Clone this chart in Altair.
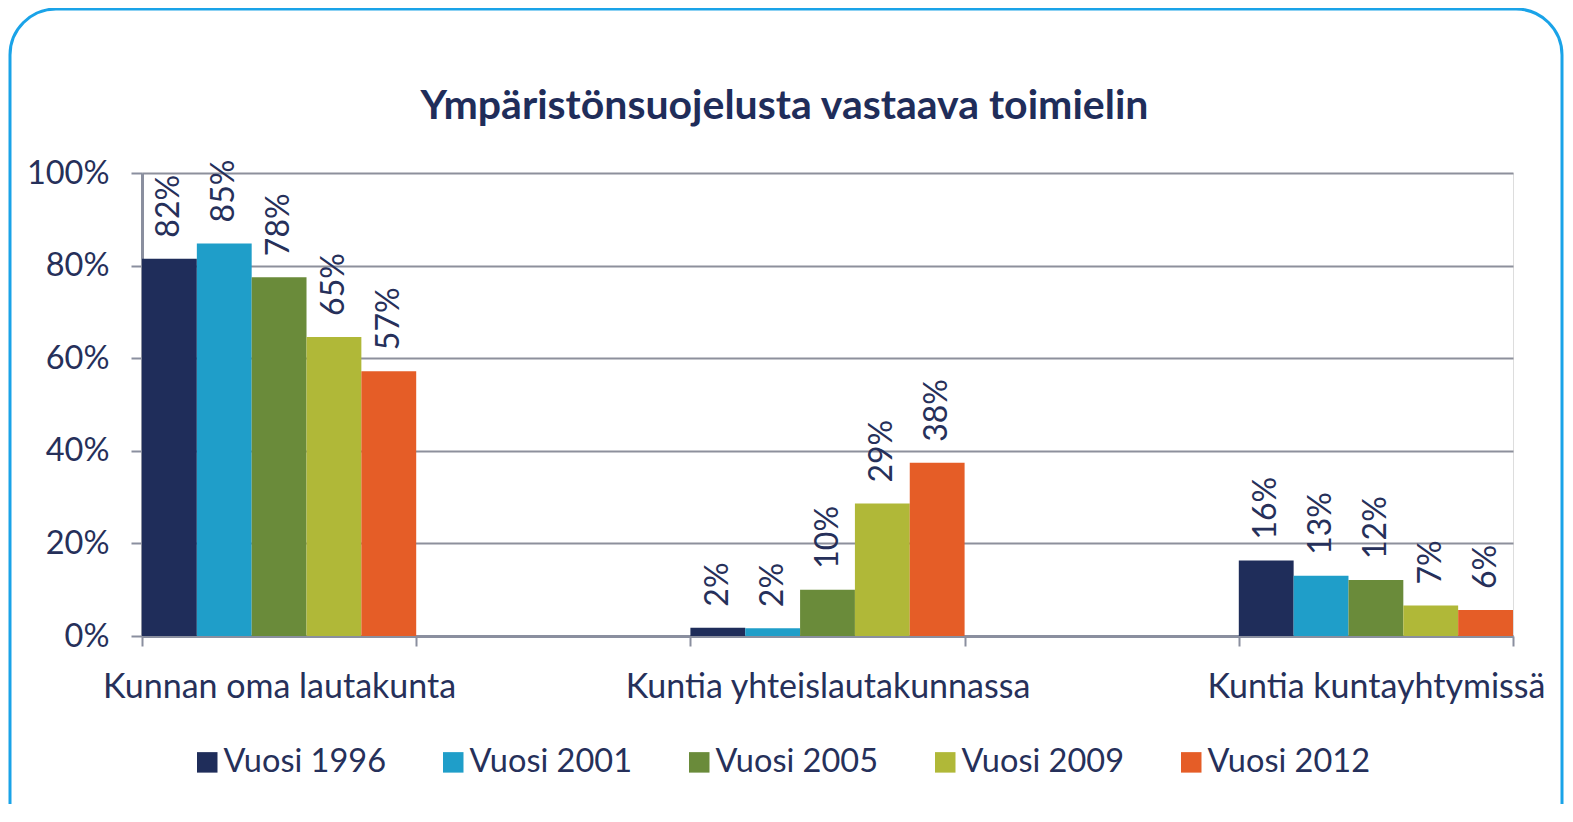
import altair as alt
import pandas as pd

# ---- data ----
categories = ["Kunnan oma lautakunta", "Kuntia yhteislautakunnassa", "Kuntia kuntayhtymissä"]
spacers = [" ", "  "]  # empty category slots between the groups
x_domain = [categories[0], spacers[0], categories[1], spacers[1], categories[2]]

years = ["Vuosi 1996", "Vuosi 2001", "Vuosi 2005", "Vuosi 2009", "Vuosi 2012"]
colors = ["#1f2d5a", "#1f9ec9", "#6a8b3a", "#b0b838", "#e55d27"]

v1996 = [81.5, 1.8, 16.3]
v2001 = [84.8, 1.7, 13.0]
v2005 = [77.5, 10.0, 12.1]
v2009 = [64.6, 28.6, 6.6]
v2012 = [57.2, 37.4, 5.6]

l1996 = ["82%", "2%", "16%"]
l2001 = ["85%", "2%", "13%"]
l2005 = ["78%", "10%", "12%"]
l2009 = ["65%", "29%", "7%"]
l2012 = ["57%", "38%", "6%"]

title_text = "Ympäristönsuojelusta vastaava toimielin"

series_vals = [v1996, v2001, v2005, v2009, v2012]
series_labels = [l1996, l2001, l2005, l2009, l2012]
rows = []
for y, vals, labs in zip(years, series_vals, series_labels):
    for c, v, l in zip(categories, vals, labs):
        rows.append({"category": c, "year": y, "value": v / 100.0, "label": l})
df = pd.DataFrame(rows)

FONT = "Lato"
TXT = "#26305a"
FS = 32.5
W, H = 1371, 463

base = alt.Chart(df).encode(
    x=alt.X(
        "category:N",
        scale=alt.Scale(domain=x_domain, paddingInner=0, paddingOuter=0),
        sort=x_domain,
        axis=alt.Axis(
            title=None, labelAngle=0, labelFont=FONT, labelFontSize=34,
            labelColor=TXT, labelPadding=24, labelLimit=800,
            tickBand="extent", tickSize=10,
            tickColor="#8a8f9f", tickWidth=2, domainColor="#8a8f9f",
            domainWidth=3, grid=False,
        ),
    ),
    xOffset=alt.XOffset("year:N", sort=years, scale=alt.Scale(domain=years, paddingInner=0, paddingOuter=0)),
    y=alt.Y(
        "value:Q",
        scale=alt.Scale(domain=[0, 1], nice=False),
        axis=alt.Axis(
            title=None, format=".0%", values=[0, 0.2, 0.4, 0.6, 0.8, 1.0],
            labelFont=FONT, labelFontSize=FS, labelColor=TXT, labelPadding=22,
            tickSize=11, tickColor="#8a8f9f", tickWidth=2,
            domainColor="#8a8f9f", domainWidth=3,
            grid=True, gridColor="#8d909c", gridWidth=2,
        ),
    ),
)

bars = base.mark_bar(stroke=None).encode(
    color=alt.Color(
        "year:N",
        sort=years,
        scale=alt.Scale(domain=years, range=colors),
        legend=alt.Legend(
            title=None, orient="none", direction="horizontal",
            legendX=49, legendY=573, symbolType="square", symbolSize=420,
            symbolStrokeWidth=0, labelFont=FONT, labelFontSize=FS,
            labelColor=TXT, labelOffset=0, columnPadding=51, labelLimit=400,
        ),
    )
)

labels = base.mark_text(
    angle=270, align="left", baseline="middle", dx=21,
    font=FONT, fontSize=32, color=TXT,
).encode(text="label:N")

frame = alt.Chart(pd.DataFrame({"f": [0]})).mark_rect(
    filled=False, stroke="#1aa3e8", strokeWidth=3, cornerRadius=46
).encode(
    x=alt.value(-132), x2=alt.value(1420), y=alt.value(-164), y2=alt.value(700)
)

chart = alt.layer(frame, bars, labels).properties(
    width=W,
    height=H,
    autosize=alt.AutoSizeParams(type="none"),
    padding={"left": 134, "top": 165, "right": 52, "bottom": 168},
    title=alt.TitleParams(
        title_text, font=FONT, fontSize=41, fontWeight="bold", color="#1f2d5a",
        anchor="middle", frame="group", dx=-43, offset=-152, baseline="alphabetic",
    ),
).configure_view(
    stroke="#6b6b6b", strokeWidth=2
).configure(background="white")

chart.save("out.html", embed_options={"renderer": "svg", "actions": False})
